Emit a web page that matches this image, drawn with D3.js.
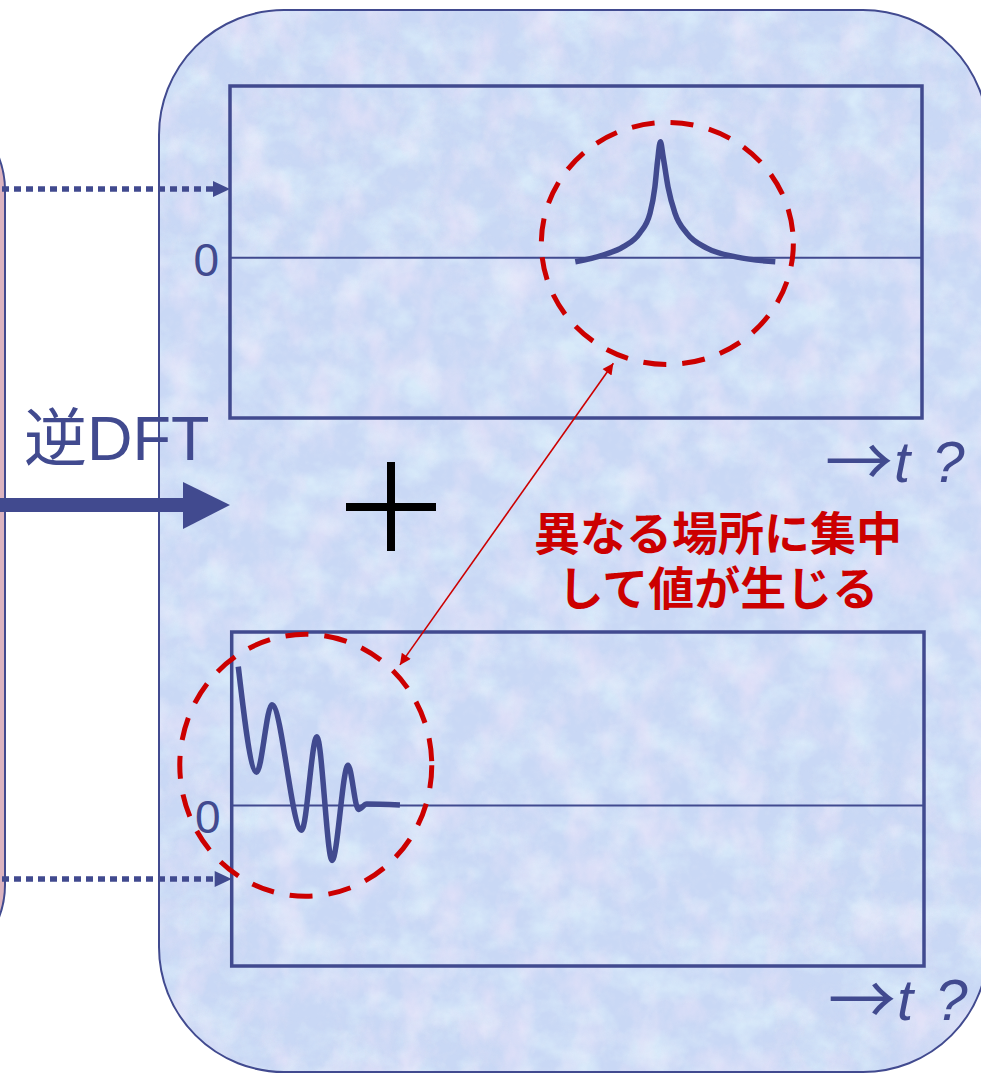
<!DOCTYPE html>
<html>
<head>
<meta charset="utf-8">
<script src="https://cdn.jsdelivr.net/npm/d3@7"></script>
<style>
  html, body { margin: 0; padding: 0; background: #ffffff; }
  svg { display: block; }
</style>
</head>
<body>
<svg id="chart" width="981" height="1074"></svg>
<script>
// ---- data ----
const tTop = [49.9, 53.9, 56.8, 59.2, 60.7, 61.4, 61.8, 62.2, 62.6, 63.3, 64.3, 66.0, 68.9, 73.3, 78.8];
const vTop = [-0.027, 0.012, 0.06, 0.14, 0.257, 0.41, 0.567, 0.674, 0.585, 0.41, 0.257, 0.14, 0.053, 0.0, -0.027];
const tBot = [0.95, 3.6, 5.8, 10.1, 12.3, 14.5, 16.8, 18.3, 19.5, 24.3];
const vBot = [0.80, 0.19, 0.58, -0.145, 0.395, -0.32, 0.23, -0.025, 0.006, 0.0];
const zeroTicks = [0];
const axisLabel = ["→", "t", "?"];
const titleText = "逆DFT";
const noteLines = ["異なる場所に集中", "して値が生じる"];

const C_BLUE = "#414a8f";
const C_RED = "#cc0000";

const svg = d3.select("#chart");
const defs = svg.append("defs");

// texture filters
const f1 = defs.append("filter").attr("id", "pinkTex").attr("filterUnits", "userSpaceOnUse")
  .attr("x", 0).attr("y", 0).attr("width", 981).attr("height", 1074);
f1.append("feTurbulence").attr("type", "fractalNoise").attr("baseFrequency", "0.03 0.02")
  .attr("numOctaves", 4).attr("seed", 7);
f1.append("feColorMatrix").attr("type", "matrix")
  .attr("values", "0 0 0 0 0.90  0 0 0 0 0.80  0 0 0 0 0.96  2.4 0 0 0 -1.05");
const f2 = defs.append("filter").attr("id", "cyanTex").attr("filterUnits", "userSpaceOnUse")
  .attr("x", 0).attr("y", 0).attr("width", 981).attr("height", 1074);
f2.append("feTurbulence").attr("type", "fractalNoise").attr("baseFrequency", "0.025 0.03")
  .attr("numOctaves", 4).attr("seed", 21);
f2.append("feColorMatrix").attr("type", "matrix")
  .attr("values", "0 0 0 0 0.76  0 0 0 0 0.92  0 0 0 0 0.98  0 2.4 0 0 -1.0");
const f3 = defs.append("filter").attr("id", "speck").attr("filterUnits", "userSpaceOnUse")
  .attr("x", 0).attr("y", 0).attr("width", 981).attr("height", 1074);
f3.append("feTurbulence").attr("type", "fractalNoise").attr("baseFrequency", "0.12")
  .attr("numOctaves", 2).attr("seed", 3);
f3.append("feColorMatrix").attr("type", "matrix")
  .attr("values", "0 0 0 0 0.70  0 0 0 0 0.76  0 0 0 0 0.92  0 0 2.0 0 -0.95");

const panelPath = "M159,135 A125,125 0 0 1 284,10 L863,10 A125,125 0 0 1 988,135 L988,947 A125,125 0 0 1 863,1072 L284,1072 A125,125 0 0 1 159,947 Z";
defs.append("clipPath").attr("id", "panelClip").append("path").attr("d", panelPath);

// left (cut off) panel
svg.append("rect").attr("x", -300).attr("y", 100).attr("width", 305).attr("height", 875)
  .attr("rx", 90).attr("fill", "#dcb4c0").attr("stroke", C_BLUE).attr("stroke-width", 2);

// main panel
svg.append("path").attr("d", panelPath).attr("fill", "#c9d8f5");
const tex = svg.append("g").attr("clip-path", "url(#panelClip)");
tex.append("rect").attr("width", 981).attr("height", 1074).attr("filter", "url(#cyanTex)").attr("opacity", 0.62);
tex.append("rect").attr("width", 981).attr("height", 1074).attr("filter", "url(#pinkTex)").attr("opacity", 0.52);
tex.append("rect").attr("width", 981).attr("height", 1074).attr("filter", "url(#speck)").attr("opacity", 0.3);
svg.append("path").attr("d", panelPath).attr("fill", "none").attr("stroke", C_BLUE).attr("stroke-width", 2);

// ---- scales ----
const xTop = d3.scaleLinear().domain([0, 100]).range([230, 922]);
const yTop = d3.scaleLinear().domain([-0.94, 1]).range([418, 86]);
const xBot = d3.scaleLinear().domain([0, 100]).range([231.7, 924]);
const yBot = d3.scaleLinear().domain([-0.93, 1]).range([966, 632]);

function drawPlot(x, y, ts, vs, labelBaselineShift) {
  const g = svg.append("g");
  const [x0, x1] = x.range();
  const [y0, y1] = y.range();
  const ax = g.append("g").attr("transform", `translate(${x0},0)`)
    .call(d3.axisLeft(y).tickValues(zeroTicks).tickSize(-(x1 - x0)).tickPadding(11).tickFormat(d3.format("d")));
  ax.select(".domain").remove();
  ax.selectAll(".tick line").attr("stroke", C_BLUE).attr("stroke-width", 2);
  ax.selectAll(".tick text").attr("fill", C_BLUE).attr("font-size", 46)
    .attr("font-family", "'Liberation Sans', Arial, sans-serif")
    .attr("dy", labelBaselineShift);
  g.append("rect").attr("x", x0).attr("y", y1).attr("width", x1 - x0).attr("height", y0 - y1)
    .attr("fill", "none").attr("stroke", C_BLUE).attr("stroke-width", 3.5);
  const pts = ts.map((t, i) => [t, vs[i]]);
  g.append("path").datum(pts)
    .attr("d", d3.line().x(d => x(d[0])).y(d => y(d[1])).curve(d3.curveMonotoneX))
    .attr("fill", "none").attr("stroke", C_BLUE).attr("stroke-width", 5.5)
    .attr("stroke-linejoin", "round").attr("stroke-linecap", "butt");
  return g;
}
drawPlot(xTop, yTop, tTop, vTop, "0.4em");
drawPlot(xBot, yBot, tBot, vBot, "0.6em");

// axis labels "→t ?" as one text element
function tLabel(xs, base) {
  const t = svg.append("text").attr("x", xs).attr("y", base).attr("fill", C_BLUE)
    .attr("font-family", "'Liberation Sans', Arial, sans-serif").attr("font-size", 58);
  t.append("tspan").attr("font-family", "'Noto Sans CJK JP', sans-serif").attr("font-size", 68)
    .attr("dy", 5).text(axisLabel[0]);
  t.append("tspan").attr("font-style", "italic").attr("dy", -5).attr("dx", 1).text(axisLabel[1]);
  t.append("tspan").attr("font-style", "italic").attr("dx", 22).text(axisLabel[2]);
}
tLabel(825, 482);
tLabel(828, 1020);

// dotted arrows from left panel
[[189, xTop(0)], [879, xBot(0)]].forEach(([yy, xe]) => {
  svg.append("line").attr("x1", 2).attr("x2", xe - 16).attr("y1", yy).attr("y2", yy)
    .attr("stroke", C_BLUE).attr("stroke-width", 5.5).attr("stroke-dasharray", "7 5");
  svg.append("path").attr("d", `M${xe - 17},${yy - 8} L${xe},${yy} L${xe - 17},${yy + 8} Z`).attr("fill", C_BLUE);
});

// big arrow
svg.append("rect").attr("x", 0).attr("y", 498).attr("width", 186).attr("height", 14).attr("fill", C_BLUE);
svg.append("path").attr("d", "M183,482 L230,505 L183,529 Z").attr("fill", C_BLUE);

// title
svg.append("text").attr("x", 24).attr("y", 460).attr("fill", C_BLUE)
  .attr("font-family", "'Liberation Sans', 'Noto Sans CJK JP', sans-serif").attr("font-size", 63)
  .text(titleText);

// plus
svg.append("line").attr("x1", 346).attr("x2", 436).attr("y1", 507).attr("y2", 507).attr("stroke", "#000").attr("stroke-width", 8);
svg.append("line").attr("x1", 391).attr("x2", 391).attr("y1", 462).attr("y2", 551).attr("stroke", "#000").attr("stroke-width", 8);

// red dashed circles
svg.append("ellipse").attr("cx", xTop(63.2)).attr("cy", yTop(0.08)).attr("rx", 126).attr("ry", 121)
  .attr("fill", "none").attr("stroke", C_RED).attr("stroke-width", 5).attr("stroke-dasharray", "23 16");
svg.append("ellipse").attr("cx", xBot(10.7)).attr("cy", yBot(0.23)).attr("rx", 126).attr("ry", 131)
  .attr("fill", "none").attr("stroke", C_RED).attr("stroke-width", 5).attr("stroke-dasharray", "23 16");

// red double arrow
defs.append("marker").attr("id", "redHead").attr("viewBox", "0 0 10 10").attr("refX", 10).attr("refY", 5)
  .attr("markerUnits", "userSpaceOnUse").attr("markerWidth", 16).attr("markerHeight", 11).attr("orient", "auto-start-reverse")
  .append("path").attr("d", "M0,0 L10,5 L0,10 Z").attr("fill", C_RED);
svg.append("line")
  .attr("x1", xBot(24.3)).attr("y1", yBot(0.81))
  .attr("x2", xTop(55.4)).attr("y2", yTop(-0.62))
  .attr("stroke", C_RED).attr("stroke-width", 1.6)
  .attr("marker-start", "url(#redHead)").attr("marker-end", "url(#redHead)");

// red note
noteLines.forEach((s, i) => {
  svg.append("text").attr("x", 718).attr("y", 550 + i * 55).attr("text-anchor", "middle")
    .attr("fill", C_RED).attr("font-weight", 700).attr("font-size", 46)
    .attr("font-family", "'Liberation Sans', 'Noto Sans CJK JP', sans-serif").text(s);
});
</script>
</body>
</html>
